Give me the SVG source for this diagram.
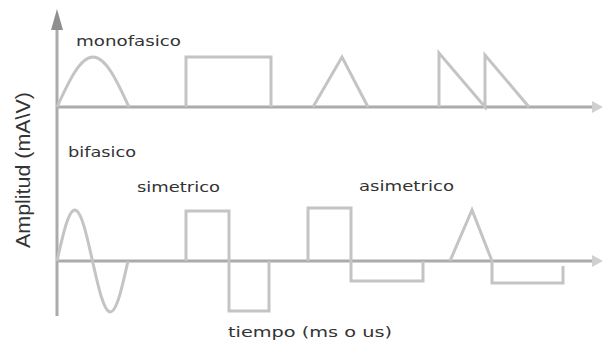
<svg xmlns="http://www.w3.org/2000/svg" width="604" height="348" viewBox="0 0 604 348">
<style>
.axis{stroke:#ababab;stroke-width:3;fill:none}
.wave{stroke:#c4c4c4;stroke-width:3;fill:none;stroke-linejoin:miter}
.lbl{font-family:"DejaVu Sans",Verdana,sans-serif;font-size:14px;fill:#333}
</style>
<defs>
<marker id="arrR" markerWidth="12" markerHeight="12" refX="10" refY="5" orient="auto" markerUnits="userSpaceOnUse">
<path d="M0,0 L11,5 L0,10 Z" fill="#cfcfcf"/>
</marker>
</defs>
<rect width="604" height="348" fill="#fff"/>
<g id="axes">
<line class="axis" x1="57" y1="316" x2="57" y2="24"/>
<path d="M57,9 L63,30 L51,30 Z" fill="#8f8f8f"/>
<line class="axis" x1="56" y1="107" x2="593" y2="107" stroke="#bdbdbd"/>
<path d="M603,107 L592,101 L592,113 Z" fill="#cfcfcf"/>
<line class="axis" x1="56" y1="261" x2="593" y2="261" stroke="#bdbdbd"/>
<path d="M603,261 L592,255 L592,267 Z" fill="#cfcfcf"/>
</g>
<g id="monofasico">
<path class="wave" d="M57,107 C68.7,81.5 80,57 93,57 C106,57 117.3,81.5 129,107"/>
<path class="wave" d="M186,107 V57 H271 V107"/>
<path class="wave" d="M313,107 L342,57 L368,107"/>
<path class="wave" d="M439,107 V53 L485,107 V55 L529,107"/>
</g>
<g id="bifasico-simetrico">
<path class="wave" d="M57,261 C62.8,234.9 68.4,210 74.8,210 C81.2,210 86.7,234.9 92.5,261 C98.3,287.1 103.9,312 110.3,312 C116.7,312 122.2,287.1 128,261"/>
<path class="wave" d="M186,261 V211 H229 V311 H269 V261"/>
</g>
<g id="bifasico-asimetrico">
<path class="wave" d="M308,261 V208 H351 V281 H423 V261"/>
<path class="wave" d="M450,261 L472,210 L492,261 V283 H563 V266"/>
</g>
<g id="labels">
<text class="lbl" x="76" y="46" textLength="105" lengthAdjust="spacingAndGlyphs">monofasico</text>
<text class="lbl" x="68" y="157" textLength="68" lengthAdjust="spacingAndGlyphs">bifasico</text>
<text class="lbl" x="137" y="192" textLength="83" lengthAdjust="spacingAndGlyphs">simetrico</text>
<text class="lbl" x="359" y="191" textLength="95" lengthAdjust="spacingAndGlyphs">asimetrico</text>
<text class="lbl" x="228" y="337" textLength="164" lengthAdjust="spacingAndGlyphs">tiempo (ms o us)</text>
<text transform="translate(30,248) rotate(-90)" x="0" y="0" font-family="'Liberation Sans',Arial,sans-serif" font-size="20" fill="#333" textLength="156" lengthAdjust="spacingAndGlyphs">Amplitud (mA\V)</text>
</g>
</svg>
